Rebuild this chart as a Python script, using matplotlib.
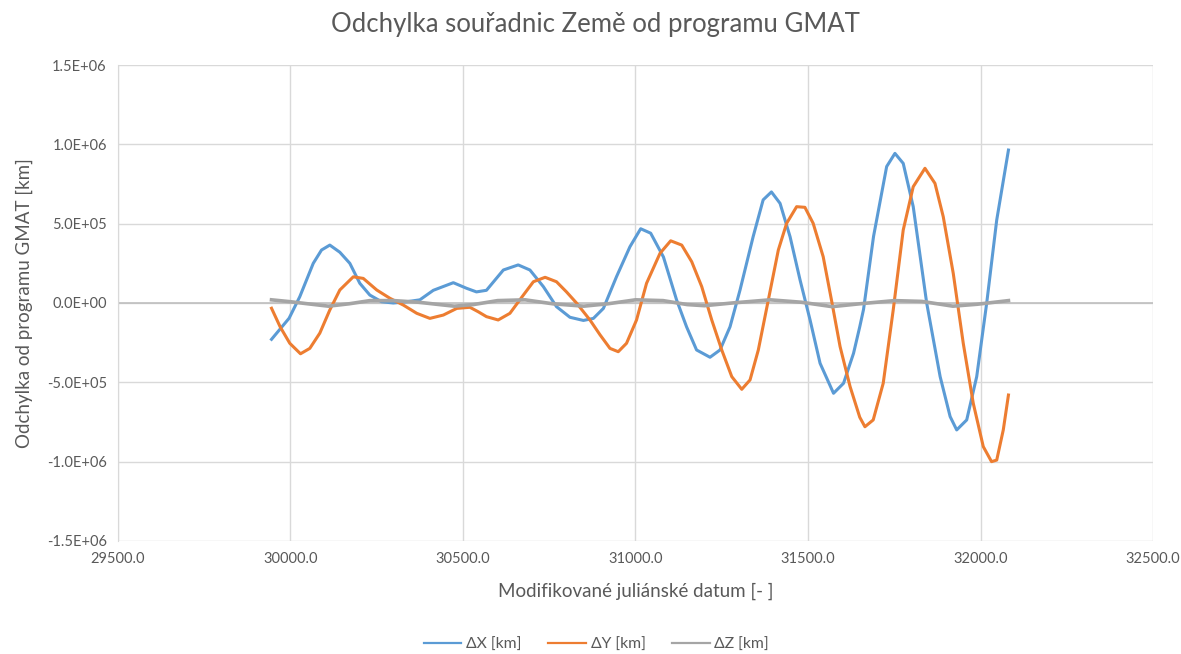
import matplotlib
matplotlib.use("Agg")
import matplotlib.pyplot as plt
from matplotlib.ticker import FuncFormatter, MultipleLocator

plt.rcParams['font.family'] = ['Lato', 'DejaVu Sans']

# Deviation of Earth coordinates vs GMAT, values in km
x_dx = [29945, 29996, 30027, 30066, 30090, 30114, 30143, 30172, 30201, 30230,
        30264, 30298, 30337, 30375, 30414, 30472, 30510, 30539, 30568, 30617,
        30660, 30694, 30733, 30771, 30810, 30849, 30878, 30907, 30945, 30984,
        31015, 31044, 31081, 31119, 31148, 31177, 31216, 31245, 31274, 31303,
        31341, 31370, 31394, 31419, 31448, 31477, 31506, 31535, 31574, 31603,
        31632, 31650, 31661, 31690, 31728, 31752, 31776, 31805, 31844, 31883,
        31912, 31931, 31960, 31989, 32018, 32047, 32081]
dx = [-229000, -96000, 40000, 250000, 334000, 365000, 320000, 250000, 124000, 50000,
      8000, 0, 8000, 20000, 80000, 128000, 93000, 70000, 80000, 208000,
      240000, 208000, 103000, -23000, -90000, -110000, -97000, -34000, 166000, 355000,
      468000, 440000, 290000, 20000, -150000, -296000, -342000, -296000, -150000, 82000,
      418000, 650000, 700000, 628000, 418000, 145000, -107000, -380000, -569000, -506000,
      -317000, -150000, -40000, 420000, 860000, 943000, 880000, 607000, 0, -464000,
      -716000, -800000, -737000, -464000, 0, 523000, 964000]

x_dy = [29945, 29970, 29998, 30029, 30056, 30085, 30114, 30143, 30182, 30211,
        30250, 30288, 30327, 30366, 30404, 30443, 30482, 30520, 30544, 30568,
        30602, 30636, 30675, 30704, 30738, 30771, 30800, 30829, 30868, 30897,
        30926, 30950, 30974, 31003, 31032, 31071, 31102, 31134, 31163, 31192,
        31221, 31250, 31279, 31308, 31332, 31356, 31385, 31414, 31438, 31467,
        31491, 31515, 31544, 31568, 31593, 31622, 31650, 31665, 31689, 31718,
        31747, 31776, 31805, 31839, 31868, 31892, 31921, 31950, 31979, 32008,
        32032, 32047, 32066, 32081]
dy = [-33000, -150000, -254000, -320000, -286000, -190000, -44000, 82000, 165000, 155000,
      82000, 30000, -13000, -65000, -97000, -76000, -34000, -27000, -55000, -86000,
      -107000, -65000, 50000, 134000, 162000, 134000, 70000, 0, -107000, -200000,
      -286000, -307000, -254000, -107000, 124000, 313000, 392000, 365000, 260000, 103000,
      -107000, -296000, -464000, -544000, -485000, -296000, 19000, 334000, 502000, 607000,
      603000, 502000, 292000, 19000, -275000, -527000, -720000, -780000, -737000, -506000,
      -44000, 460000, 733000, 849000, 754000, 544000, 187000, -254000, -632000, -905000,
      -1000000, -990000, -800000, -580000]

x_dz = [29945, 30000, 30050, 30110, 30170, 30230, 30300, 30370, 30440, 30475,
        30530, 30600, 30680, 30760, 30850, 30920, 31000, 31080, 31150, 31200,
        31280, 31390, 31480, 31570, 31650, 31750, 31830, 31920, 31990, 32081]
dz = [20000, 8000, -5000, -20000, -5000, 15000, 15000, 5000, -12000, -20000,
      -10000, 15000, 20000, -5000, -20000, -5000, 20000, 15000, -10000, -17000,
      0, 20000, 5000, -23000, -5000, 15000, 10000, -20000, -8000, 15000]

txt = '#595959'
grid = '#D9D9D9'

fig = plt.figure(figsize=(11.81, 6.54), dpi=100)
ax = fig.add_axes([0.0999, 0.1728, 0.8764, 0.7278])

ax.plot(x_dx, dx, color='#5B9BD5', lw=2.2, label='ΔX [km]', zorder=3)
ax.plot(x_dy, dy, color='#ED7D31', lw=2.2, label='ΔY [km]', zorder=3)
ax.plot(x_dz, dz, color='#A5A5A5', lw=2.6, label='ΔZ [km]', zorder=3)

ax.set_xlim(29500, 32500)
ax.set_ylim(-1.5e6, 1.5e6)
ax.xaxis.set_major_locator(MultipleLocator(500))
ax.yaxis.set_major_locator(MultipleLocator(5e5))
ax.xaxis.set_major_formatter(FuncFormatter(lambda v, p: f"{v:.1f}"))
ax.yaxis.set_major_formatter(FuncFormatter(lambda v, p: f"{v:.1E}"))
ax.grid(True, color=grid, lw=1)
ax.axhline(0, color='#BFBFBF', lw=1.2, zorder=2)
for s in ['top', 'right', 'bottom']:
    ax.spines[s].set_visible(False)
ax.spines['left'].set_color(grid)
ax.tick_params(length=0, colors=txt, labelsize=10.5, pad=8)

fig.suptitle('Odchylka souřadnic Země od programu GMAT', fontsize=18.5, color=txt,
             x=0.504, y=0.962, va='center')
ax.set_xlabel('Modifikované juliánské datum [- ]', fontsize=13.5, color=txt, labelpad=12)
ax.set_ylabel('Odchylka od programu GMAT [km]', fontsize=13.5, color=txt, labelpad=10)

leg = fig.legend(loc='lower center', bbox_to_anchor=(0.505, -0.018), ncol=3, frameon=False,
                 fontsize=11.3, labelcolor=txt, handlelength=2.4, columnspacing=1.7,
                 handletextpad=0.3)
for h in leg.get_lines():
    h.set_linewidth(1.6)

fig.savefig('out.png', dpi=100)
